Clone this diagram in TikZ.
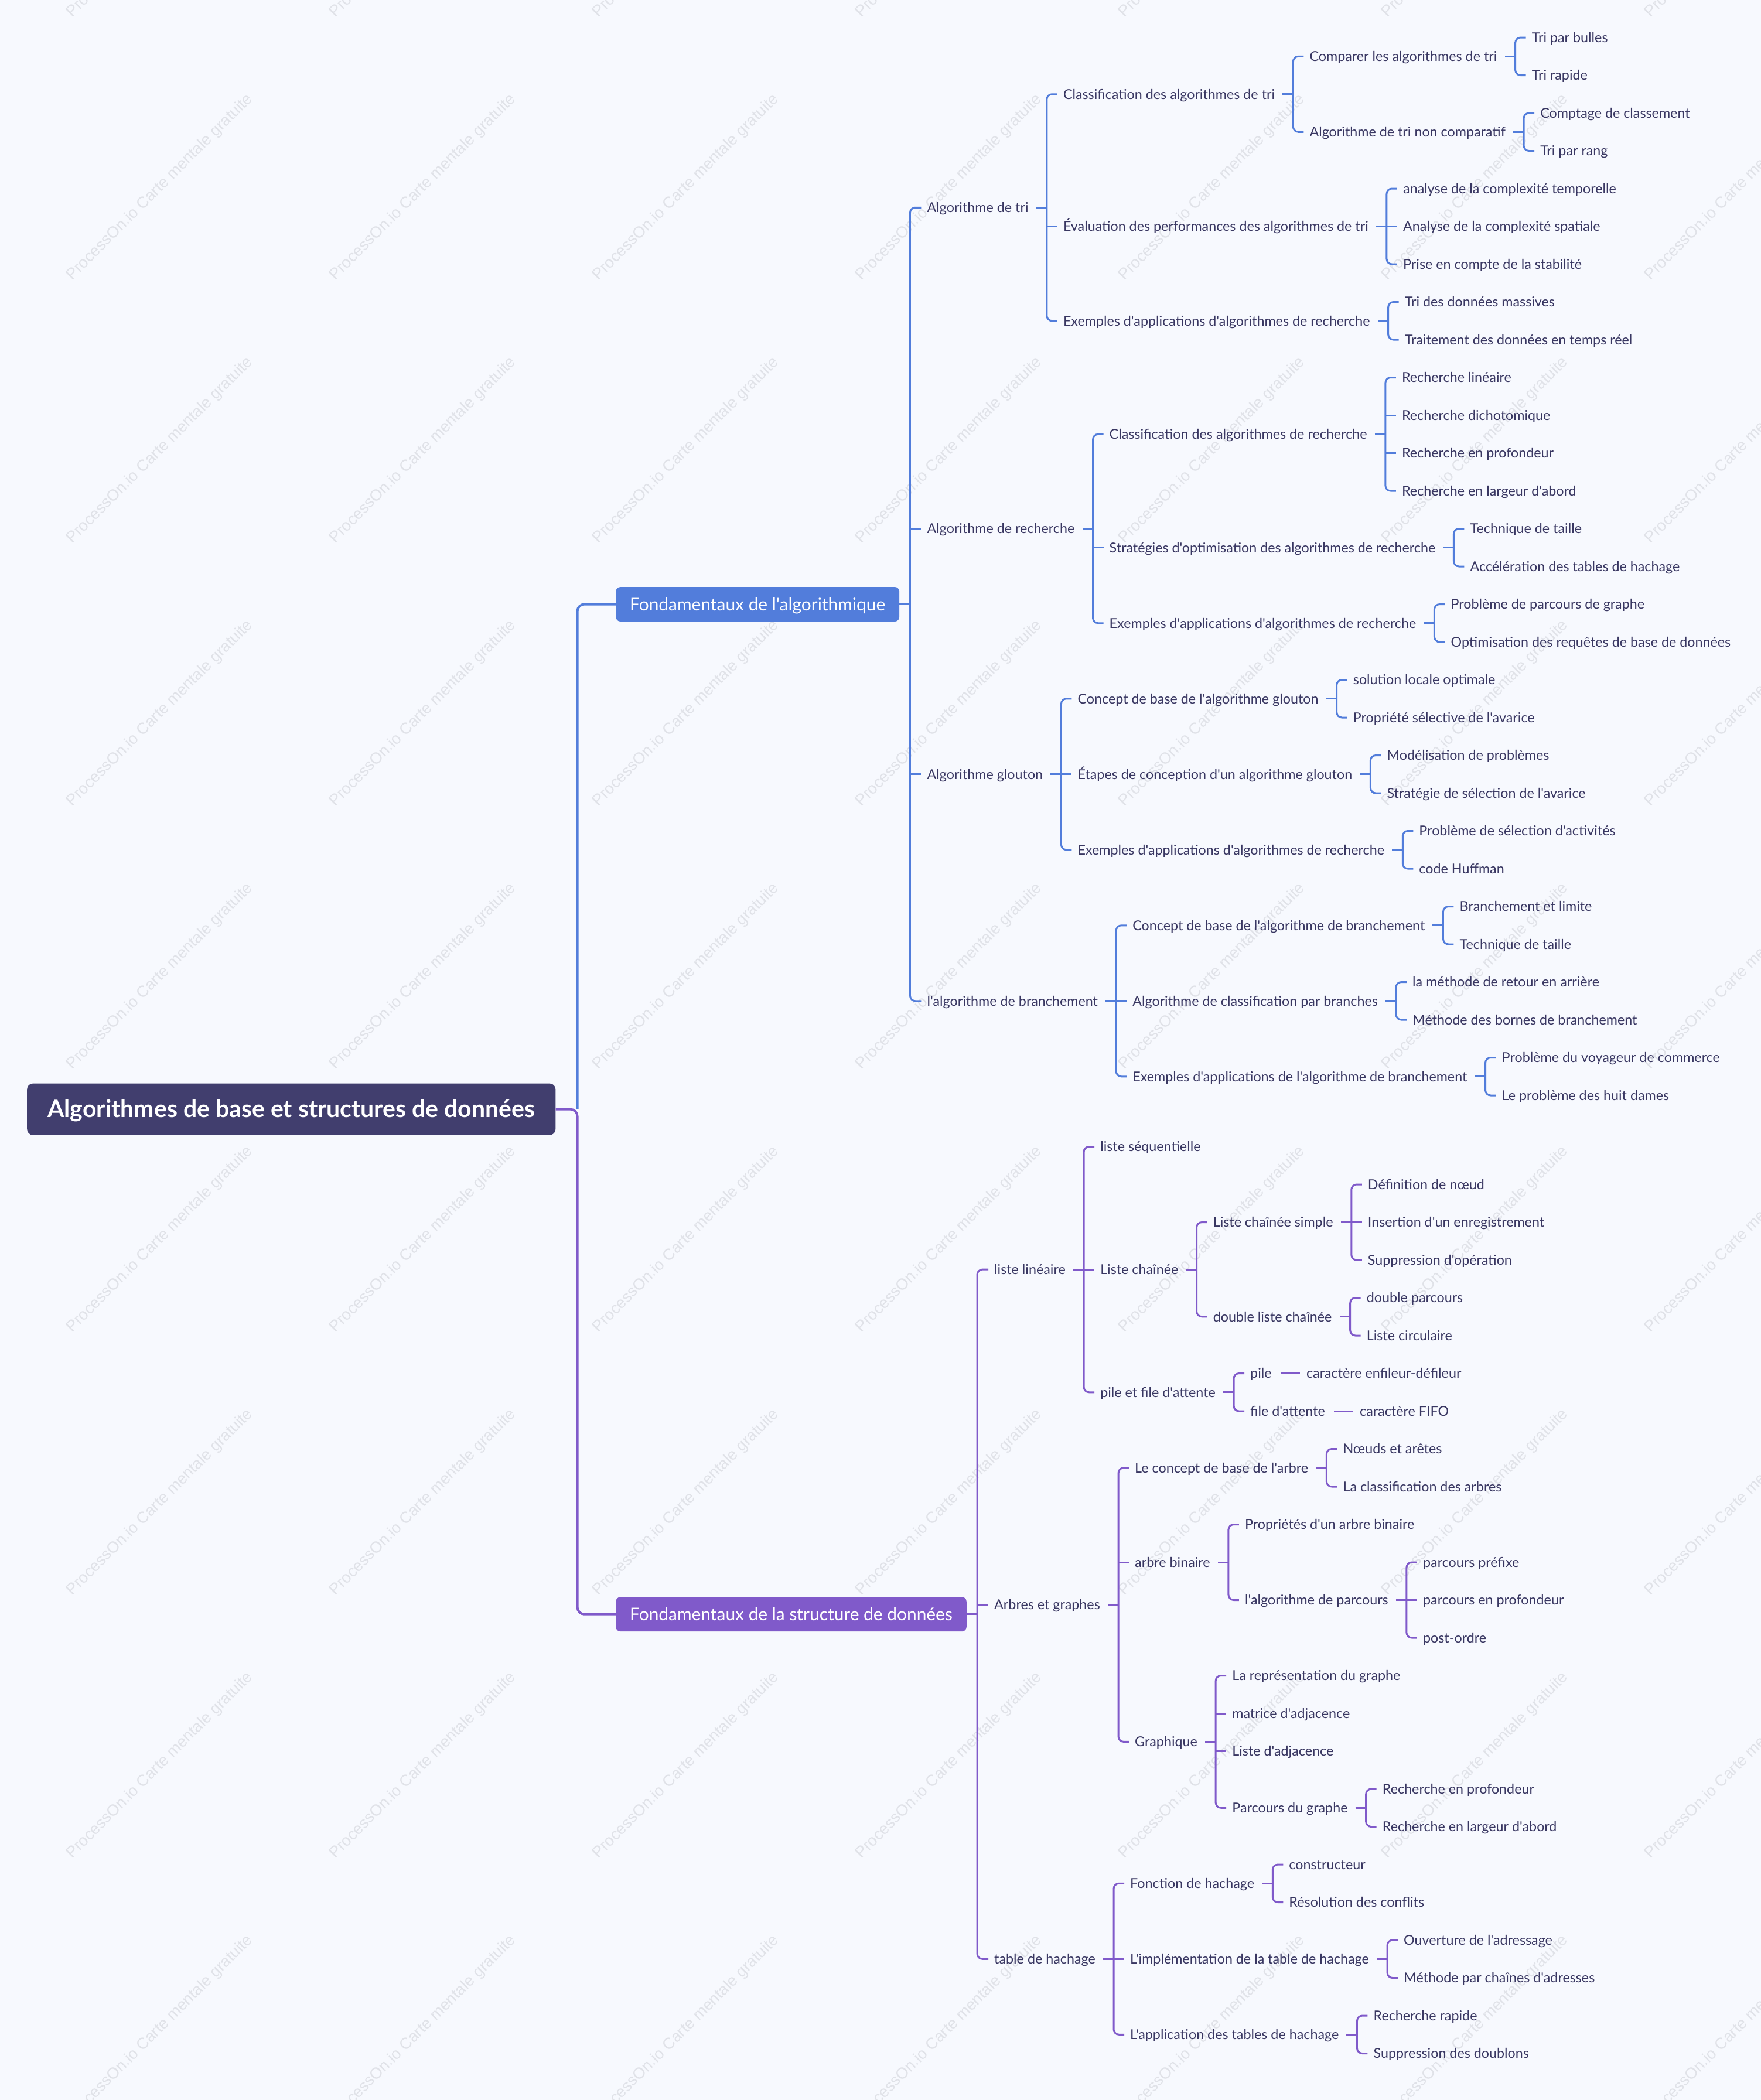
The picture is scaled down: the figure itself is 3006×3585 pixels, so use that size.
\documentclass[tikz,border=0pt]{standalone}
\usepackage{fontspec}
\newfontfamily\mmfont{Lato}
\newfontfamily\wmfont{Liberation Sans}
\definecolor{bgc}{RGB}{247,249,254}
\definecolor{cblue}{RGB}{82,125,219}
\definecolor{cpurple}{RGB}{128,90,202}
\definecolor{croot}{RGB}{65,62,110}
\definecolor{ctext}{RGB}{57,55,98}
\definecolor{cwm}{RGB}{224,226,232}
\tikzset{
  wm/.style={rotate=45, inner sep=0pt, text=cwm, font=\wmfont\fontsize{27}{30}\selectfont},
  rootbox/.style={anchor=west, fill=croot, rounded corners=10pt, text=white,
    font=\mmfont\bfseries\fontsize{41}{48}\selectfont, inner xsep=35pt, inner ysep=0pt,
    minimum height=88pt, text height=28pt, text depth=0pt},
  lonebox/.style={anchor=west, rounded corners=8pt, text=white,
    font=\mmfont\fontsize{29.9}{35}\selectfont, inner xsep=24pt, inner ysep=0pt,
    minimum height=59pt, text height=21pt, text depth=0pt},
  lt/.style={anchor=west, inner sep=0pt, text=ctext, font=\mmfont\fontsize{23.3}{28}\selectfont,
    text height=16.6pt, text depth=0pt, xshift=59pt},
  ltwo/.style={lt, xshift=-12pt},
  bl/.style={draw=cblue, line width=3pt},
  pl/.style={draw=cpurple, line width=3pt},
}
\newcommand\mmfan[4]{%
  \coordinate (#2bus) at ([xshift=31pt]#2.east);
  \draw[#1] ([xshift=13pt]#2.east) -- (#2bus);
  \draw[#1,rounded corners=9pt] ([xshift=-10pt]#3.west) -- (#3.west -| #2bus) -- (#4.west -| #2bus) -- ([xshift=-10pt]#4.west);
}
\newcommand\mmfanbox[4]{%
  \coordinate (#2bus) at ([xshift=18pt]#2.east);
  \draw[#1] (#2.east) -- (#2bus);
  \draw[#1,rounded corners=9pt] ([xshift=-10pt]#3.west) -- (#3.west -| #2bus) -- (#4.west -| #2bus) -- ([xshift=-10pt]#4.west);
}
\newcommand\mmtick[3]{%
  \draw[#1] (#3.west -| #2bus) -- ([xshift=-10pt]#3.west);
}
\begin{document}
\begin{tikzpicture}[x=1pt,y=-1pt]
\fill[bgc] (0,0) rectangle (3006,3585);
\useasboundingbox (0,0) rectangle (3006,3585);
\begin{scope}
\clip (0,0) rectangle (3006,3585);
\foreach \i in {-1,...,6} {
  \foreach \j in {-1,...,7} {
    \node[wm] (wm\i\j) at ({273+449*\i},{320+449*\j}) {ProcessOn.io Carte mentale gratuite};
  }
}
\end{scope}

% root and main branches
\node[rootbox] (R) at (46,1893.6) {Algorithmes de base et structures de données};
\node[lonebox, fill=cblue] (A) at (1051,1031.5) {Fondamentaux de l'algorithmique};
\node[lonebox, fill=cpurple] (B) at (1051,2755.7) {Fondamentaux de la structure de données};
\coordinate (T) at ([xshift=37pt]R.east);
\draw[cblue, line width=4pt, rounded corners=12pt] (T) -- (A.west -| T) -- (A.west);
\draw[cpurple, line width=4pt, rounded corners=12pt] (R.east) -- (T) -- (B.west -| T) -- (B.west);

% ---------- blue subtree
\node[ltwo] (A1) at (A.east |- 0,354.25) {Algorithme de tri};
\node[ltwo] (A2) at (A.east |- 0,902.5) {Algorithme de recherche};
\node[ltwo] (A3) at (A.east |- 0,1321.75) {Algorithme glouton};
\node[ltwo] (A4) at (A.east |- 0,1708.75) {l'algorithme de branchement};

\node[lt] (A11) at (A1.east |- 0,160.75) {Classification des algorithmes de tri};
\node[lt] (A12) at (A1.east |- 0,386.5) {Évaluation des performances des algorithmes de tri};
\node[lt] (A13) at (A1.east |- 0,547.75) {Exemples d'applications d'algorithmes de recherche};
\node[lt] (A111) at (A11.east |- 0,96.25) {Comparer les algorithmes de tri};
\node[lt] (A112) at (A11.east |- 0,225.25) {Algorithme de tri non comparatif};
\node[lt] (A1111) at (A111.east |- 0,64) {Tri par bulles};
\node[lt] (A1112) at (A111.east |- 0,128.5) {Tri rapide};
\node[lt] (A1121) at (A112.east |- 0,193) {Comptage de classement};
\node[lt] (A1122) at (A112.east |- 0,257.5) {Tri par rang};
\node[lt] (A121) at (A12.east |- 0,322) {analyse de la complexité temporelle};
\node[lt] (A122) at (A12.east |- 0,386.5) {Analyse de la complexité spatiale};
\node[lt] (A123) at (A12.east |- 0,451) {Prise en compte de la stabilité};
\node[lt] (A131) at (A13.east |- 0,515.5) {Tri des données massives};
\node[lt] (A132) at (A13.east |- 0,580) {Traitement des données en temps réel};

\node[lt] (A21) at (A2.east |- 0,741.25) {Classification des algorithmes de recherche};
\node[lt] (A22) at (A2.east |- 0,934.75) {Stratégies d'optimisation des algorithmes de recherche};
\node[lt] (A23) at (A2.east |- 0,1063.75) {Exemples d'applications d'algorithmes de recherche};
\node[lt] (A211) at (A21.east |- 0,644.5) {Recherche linéaire};
\node[lt] (A212) at (A21.east |- 0,709) {Recherche dichotomique};
\node[lt] (A213) at (A21.east |- 0,773.5) {Recherche en profondeur};
\node[lt] (A214) at (A21.east |- 0,838) {Recherche en largeur d'abord};
\node[lt] (A221) at (A22.east |- 0,902.5) {Technique de taille};
\node[lt] (A222) at (A22.east |- 0,967) {Accélération des tables de hachage};
\node[lt] (A231) at (A23.east |- 0,1031.5) {Problème de parcours de graphe};
\node[lt] (A232) at (A23.east |- 0,1096) {Optimisation des requêtes de base de données};

\node[lt] (A31) at (A3.east |- 0,1192.75) {Concept de base de l'algorithme glouton};
\node[lt] (A32) at (A3.east |- 0,1321.75) {Étapes de conception d'un algorithme glouton};
\node[lt] (A33) at (A3.east |- 0,1450.75) {Exemples d'applications d'algorithmes de recherche};
\node[lt] (A311) at (A31.east |- 0,1160.5) {solution locale optimale};
\node[lt] (A312) at (A31.east |- 0,1225) {Propriété sélective de l'avarice};
\node[lt] (A321) at (A32.east |- 0,1289.5) {Modélisation de problèmes};
\node[lt] (A322) at (A32.east |- 0,1354) {Stratégie de sélection de l'avarice};
\node[lt] (A331) at (A33.east |- 0,1418.5) {Problème de sélection d'activités};
\node[lt] (A332) at (A33.east |- 0,1483) {code Huffman};

\node[lt] (A41) at (A4.east |- 0,1579.75) {Concept de base de l'algorithme de branchement};
\node[lt] (A42) at (A4.east |- 0,1708.75) {Algorithme de classification par branches};
\node[lt] (A43) at (A4.east |- 0,1837.75) {Exemples d'applications de l'algorithme de branchement};
\node[lt] (A411) at (A41.east |- 0,1547.5) {Branchement et limite};
\node[lt] (A412) at (A41.east |- 0,1612) {Technique de taille};
\node[lt] (A421) at (A42.east |- 0,1676.5) {la méthode de retour en arrière};
\node[lt] (A422) at (A42.east |- 0,1741) {Méthode des bornes de branchement};
\node[lt] (A431) at (A43.east |- 0,1805.5) {Problème du voyageur de commerce};
\node[lt] (A432) at (A43.east |- 0,1870) {Le problème des huit dames};

\mmfanbox{bl}{A}{A1}{A4} \mmtick{bl}{A}{A2} \mmtick{bl}{A}{A3}
\mmfan{bl}{A1}{A11}{A13} \mmtick{bl}{A1}{A12}
\mmfan{bl}{A11}{A111}{A112}
\mmfan{bl}{A111}{A1111}{A1112}
\mmfan{bl}{A112}{A1121}{A1122}
\mmfan{bl}{A12}{A121}{A123} \mmtick{bl}{A12}{A122}
\mmfan{bl}{A13}{A131}{A132}
\mmfan{bl}{A2}{A21}{A23} \mmtick{bl}{A2}{A22}
\mmfan{bl}{A21}{A211}{A214} \mmtick{bl}{A21}{A212} \mmtick{bl}{A21}{A213}
\mmfan{bl}{A22}{A221}{A222}
\mmfan{bl}{A23}{A231}{A232}
\mmfan{bl}{A3}{A31}{A33} \mmtick{bl}{A3}{A32}
\mmfan{bl}{A31}{A311}{A312}
\mmfan{bl}{A32}{A321}{A322}
\mmfan{bl}{A33}{A331}{A332}
\mmfan{bl}{A4}{A41}{A43} \mmtick{bl}{A4}{A42}
\mmfan{bl}{A41}{A411}{A412}
\mmfan{bl}{A42}{A421}{A422}
\mmfan{bl}{A43}{A431}{A432}

% ---------- purple subtree
\node[ltwo] (B1) at (B.east |- 0,2167.125) {liste linéaire};
\node[ltwo] (B2) at (B.east |- 0,2739.56) {Arbres et graphes};
\node[ltwo] (B3) at (B.east |- 0,3344.25) {table de hachage};

\node[lt] (B11) at (B1.east |- 0,1957.5) {liste séquentielle};
\node[lt] (B12) at (B1.east |- 0,2167.125) {Liste chaînée};
\node[lt] (B13) at (B1.east |- 0,2376.75) {pile et file d'attente};
\node[lt] (B121) at (B12.east |- 0,2086.5) {Liste chaînée simple};
\node[lt] (B122) at (B12.east |- 0,2247.75) {double liste chaînée};
\node[lt] (B1211) at (B121.east |- 0,2022) {Définition de nœud};
\node[lt] (B1212) at (B121.east |- 0,2086.5) {Insertion d'un enregistrement};
\node[lt] (B1213) at (B121.east |- 0,2151) {Suppression d'opération};
\node[lt] (B1221) at (B122.east |- 0,2215.5) {double parcours};
\node[lt] (B1222) at (B122.east |- 0,2280) {Liste circulaire};
\node[lt] (B131) at (B13.east |- 0,2344.5) {pile};
\node[lt] (B132) at (B13.east |- 0,2409) {file d'attente};
\node[lt] (B1311) at (B131.east |- 0,2344.5) {caractère enfileur-défileur};
\node[lt] (B1321) at (B132.east |- 0,2409) {caractère FIFO};

\node[lt] (B21) at (B2.east |- 0,2505.75) {Le concept de base de l'arbre};
\node[lt] (B22) at (B2.east |- 0,2667) {arbre binaire};
\node[lt] (B23) at (B2.east |- 0,2973.375) {Graphique};
\node[lt] (B211) at (B21.east |- 0,2473.5) {Nœuds et arêtes};
\node[lt] (B212) at (B21.east |- 0,2538) {La classification des arbres};
\node[lt] (B221) at (B22.east |- 0,2602.5) {Propriétés d'un arbre binaire};
\node[lt] (B222) at (B22.east |- 0,2731.5) {l'algorithme de parcours};
\node[lt] (B2221) at (B222.east |- 0,2667) {parcours préfixe};
\node[lt] (B2222) at (B222.east |- 0,2731.5) {parcours en profondeur};
\node[lt] (B2223) at (B222.east |- 0,2796) {post-ordre};
\node[lt] (B231) at (B23.east |- 0,2860.5) {La représentation du graphe};
\node[lt] (B232) at (B23.east |- 0,2925) {matrice d'adjacence};
\node[lt] (B233) at (B23.east |- 0,2989.5) {Liste d'adjacence};
\node[lt] (B234) at (B23.east |- 0,3086.25) {Parcours du graphe};
\node[lt] (B2341) at (B234.east |- 0,3054) {Recherche en profondeur};
\node[lt] (B2342) at (B234.east |- 0,3118.5) {Recherche en largeur d'abord};

\node[lt] (B31) at (B3.east |- 0,3215.25) {Fonction de hachage};
\node[lt] (B32) at (B3.east |- 0,3344.25) {L'implémentation de la table de hachage};
\node[lt] (B33) at (B3.east |- 0,3473.25) {L'application des tables de hachage};
\node[lt] (B311) at (B31.east |- 0,3183) {constructeur};
\node[lt] (B312) at (B31.east |- 0,3247.5) {Résolution des conflits};
\node[lt] (B321) at (B32.east |- 0,3312) {Ouverture de l'adressage};
\node[lt] (B322) at (B32.east |- 0,3376.5) {Méthode par chaînes d'adresses};
\node[lt] (B331) at (B33.east |- 0,3441) {Recherche rapide};
\node[lt] (B332) at (B33.east |- 0,3505.5) {Suppression des doublons};

\mmfanbox{pl}{B}{B1}{B3} \mmtick{pl}{B}{B2}
\mmfan{pl}{B1}{B11}{B13} \mmtick{pl}{B1}{B12}
\mmfan{pl}{B12}{B121}{B122}
\mmfan{pl}{B121}{B1211}{B1213} \mmtick{pl}{B121}{B1212}
\mmfan{pl}{B122}{B1221}{B1222}
\mmfan{pl}{B13}{B131}{B132}
\draw[pl] ([xshift=15pt]B131.east) -- ([xshift=-11pt]B1311.west);
\draw[pl] ([xshift=15pt]B132.east) -- ([xshift=-11pt]B1321.west);
\mmfan{pl}{B2}{B21}{B23} \mmtick{pl}{B2}{B22}
\mmfan{pl}{B21}{B211}{B212}
\mmfan{pl}{B22}{B221}{B222}
\mmfan{pl}{B222}{B2221}{B2223} \mmtick{pl}{B222}{B2222}
\mmfan{pl}{B23}{B231}{B234} \mmtick{pl}{B23}{B232} \mmtick{pl}{B23}{B233}
\mmfan{pl}{B234}{B2341}{B2342}
\mmfan{pl}{B3}{B31}{B33} \mmtick{pl}{B3}{B32}
\mmfan{pl}{B31}{B311}{B312}
\mmfan{pl}{B32}{B321}{B322}
\mmfan{pl}{B33}{B331}{B332}
\end{tikzpicture}
\end{document}
